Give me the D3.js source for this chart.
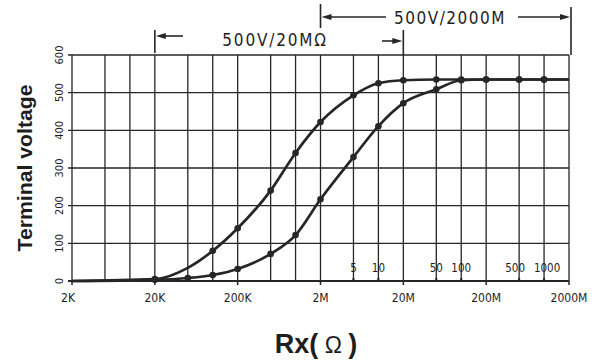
<!DOCTYPE html>
<html>
<head>
<meta charset="utf-8">
<script src="https://cdn.jsdelivr.net/npm/d3@7"></script>
<style>
  body { margin: 0; background: #fff; }
  svg { display: block; }
  text { fill: #1e1e1e; }
</style>
</head>
<body>
<div class="chart-container"></div>
<script>
// Resistance points (ohms) and terminal voltage for the two ranges
const rx = [2e3, 2e4, 5e4, 1e5, 2e5, 5e5, 1e6, 2e6, 5e6, 1e7, 2e7, 5e7, 1e8, 2e8, 5e8, 1e9, 2e9];
const v20M = [0, 5, 35, 80, 140, 240, 340, 422, 493, 525, 533, 535, 535, 535, 535, 535, 535];
const v2000M = [0, 3, 8, 16, 32, 72, 122, 217, 329, 411, 472, 509, 533, 535, 535, 535, 535];
const noDot20M = [2e3, 5e4, 2e9];
const noDot2000M = [2e3, 2e9];

const gridX = [2e3, 5e3, 1e4, 2e4, 5e4, 1e5, 2e5, 5e5, 1e6, 2e6, 5e6, 1e7, 2e7, 5e7, 1e8, 2e8, 5e8, 1e9, 2e9];
const xTickVals = [2e3, 2e4, 2e5, 2e6, 2e7, 2e8, 2e9];
const xTickLabels = ["2K", "20K", "200K", "2M", "20M", "200M", "2000M"];
const innerVals = [5e6, 1e7, 5e7, 1e8, 5e8, 1e9];
const innerLabels = ["5", "10", "50", "100", "500", "1000"];
const yTicks = [0, 100, 200, 300, 400, 500, 600];

const width = 596;
const height = 362;
const marginTop = 55;
const marginRight = 27;
const marginBottom = 81;
const marginLeft = 72;

const narrow = '"DejaVu Sans Condensed", "Liberation Sans Narrow", sans-serif';

const svg = d3.select('.chart-container').append('svg')
    .attr('width', width)
    .attr('height', height);

svg.append('rect').attr('width', width).attr('height', height).attr('fill', '#fff');

const x = d3.scaleLog()
    .domain([2e3, 2e9])
    .range([marginLeft, width - marginRight]);

const y = d3.scaleLinear()
    .domain([0, 600])
    .range([height - marginBottom, marginTop]);

const ink = '#262626';

// grid
const grid = svg.append('g').attr('stroke', ink).attr('stroke-width', 1.3);
grid.selectAll('.vx').data(gridX).join('line')
    .attr('x1', d => x(d)).attr('x2', d => x(d))
    .attr('y1', y(0)).attr('y2', y(600));
grid.selectAll('.hy').data(yTicks).join('line')
    .attr('x1', x(2e3) - 4).attr('x2', x(2e9))
    .attr('y1', d => y(d)).attr('y2', d => y(d));

// bottom axis line a bit heavier
svg.append('line')
    .attr('x1', x(2e3) - 4).attr('x2', x(2e9))
    .attr('y1', y(0)).attr('y2', y(0))
    .attr('stroke', ink).attr('stroke-width', 2);

// x ticks under the axis
svg.append('g').selectAll('line').data(xTickVals).join('line')
    .attr('x1', d => x(d)).attr('x2', d => x(d))
    .attr('y1', y(0)).attr('y2', y(0) + 4)
    .attr('stroke', ink).attr('stroke-width', 1.5);

svg.append('g').selectAll('text').data(xTickVals).join('text')
    .attr('x', d => x(d) - (d === 2e3 ? 4 : 0))
    .attr('y', y(0) + 21)
    .attr('text-anchor', 'middle')
    .style('font-family', narrow)
    .style('font-size', '12px')
    .text((d, i) => xTickLabels[i]);

// small inner scale (x 1M) labels
svg.append('g').selectAll('line').data(innerVals).join('line')
    .attr('x1', d => x(d)).attr('x2', d => x(d))
    .attr('y1', y(0) - 3).attr('y2', y(0))
    .attr('stroke', ink).attr('stroke-width', 2);

// the last two labels are nudged apart so they don't collide
const nudge = d => d === 5e8 ? -4 : d === 1e9 ? 3 : 0;
svg.append('g').selectAll('text').data(innerVals).join('text')
    .attr('x', d => x(d) + nudge(d))
    .attr('y', y(0) - 9)
    .attr('text-anchor', 'middle')
    .style('font-family', narrow)
    .style('font-size', '11.5px')
    .text((d, i) => innerLabels[i]);

// y tick labels (rotated)
svg.append('g').selectAll('text').data(yTicks).join('text')
    .attr('transform', d => `translate(${marginLeft - 9},${y(d)}) rotate(-90)`)
    .attr('text-anchor', 'middle')
    .style('font-family', narrow)
    .style('font-size', '11px')
    .text(d => d);

// axis titles
svg.append('text')
    .attr('transform', `translate(32,${(y(0) + y(600)) / 2}) rotate(-90)`)
    .attr('text-anchor', 'middle')
    .attr('textLength', 167)
    .attr('lengthAdjust', 'spacingAndGlyphs')
    .style('font-family', '"Liberation Sans", Arial, sans-serif')
    .style('font-weight', 'bold')
    .style('font-size', '21px')
    .text('Terminal voltage');

const xTitle = svg.append('text')
    .attr('x', 316)
    .attr('y', 353)
    .attr('text-anchor', 'middle')
    .style('font-family', '"Liberation Sans", Arial, sans-serif')
    .style('font-size', '27px');
xTitle.append('tspan').style('font-weight', 'bold').text('Rx(');
xTitle.append('tspan').style('font-size', '23px').text(' Ω ');
xTitle.append('tspan').style('font-weight', 'bold').text(')');

// curves
const line = d3.line()
    .x(d => x(d[0]))
    .y(d => y(d[1]))
    .curve(d3.curveMonotoneX);

const seriesA = rx.map((r, i) => [r, v20M[i]]);
const seriesB = rx.map((r, i) => [r, v2000M[i]]);

[seriesA, seriesB].forEach(s => {
    svg.append('path')
        .datum(s)
        .attr('fill', 'none')
        .attr('stroke', ink)
        .attr('stroke-width', 2.7)
        .attr('d', line);
});

svg.append('g').selectAll('circle')
    .data(seriesA.filter(d => !noDot20M.includes(d[0])).concat(seriesB.filter(d => !noDot2000M.includes(d[0]))))
    .join('circle')
    .attr('cx', d => x(d[0]))
    .attr('cy', d => y(d[1]))
    .attr('r', 3.3)
    .attr('fill', ink);

// range annotations
const ann = svg.append('g').attr('stroke', ink).attr('fill', ink);

function arrow(x1, x2, yy) {
    // shaft from x1 to x2, head at x2
    const dir = Math.sign(x2 - x1);
    ann.append('line')
        .attr('x1', x1).attr('x2', x2 - dir * 6)
        .attr('y1', yy).attr('y2', yy)
        .attr('stroke-width', 1.6);
    ann.append('path')
        .attr('stroke', 'none')
        .attr('d', `M${x2},${yy} L${x2 - dir * 10},${yy - 3} L${x2 - dir * 10},${yy + 3} Z`);
}

function bar(xx, y1, y2) {
    ann.append('line')
        .attr('x1', xx).attr('x2', xx)
        .attr('y1', y1).attr('y2', y2)
        .attr('stroke-width', 1.6);
}

// 500V/20MΩ : from 20K to 20M
bar(x(2e4), 30, 53);
arrow(183, x(2e4) + 1, 36);
bar(x(2e7), 30, 55);
arrow(382, x(2e7) - 1, 41);

svg.append('text')
    .attr('x', 275)
    .attr('y', 46)
    .attr('text-anchor', 'middle')
    .style('font-family', narrow)
    .style('font-size', '17px')
    .style('letter-spacing', '1.8px')
    .text('500V/20MΩ');

// 500V/2000M : from 2M to 2000M
bar(x(2e6), 4, 28);
arrow(386, x(2e6) + 1, 17);
bar(x(2e9) + 2, 7, 55);
arrow(518, x(2e9) + 1, 17);

svg.append('text')
    .attr('x', 450)
    .attr('y', 24)
    .attr('text-anchor', 'middle')
    .style('font-family', narrow)
    .style('font-size', '17px')
    .style('letter-spacing', '1.5px')
    .text('500V/2000M');
</script>
</body>
</html>
